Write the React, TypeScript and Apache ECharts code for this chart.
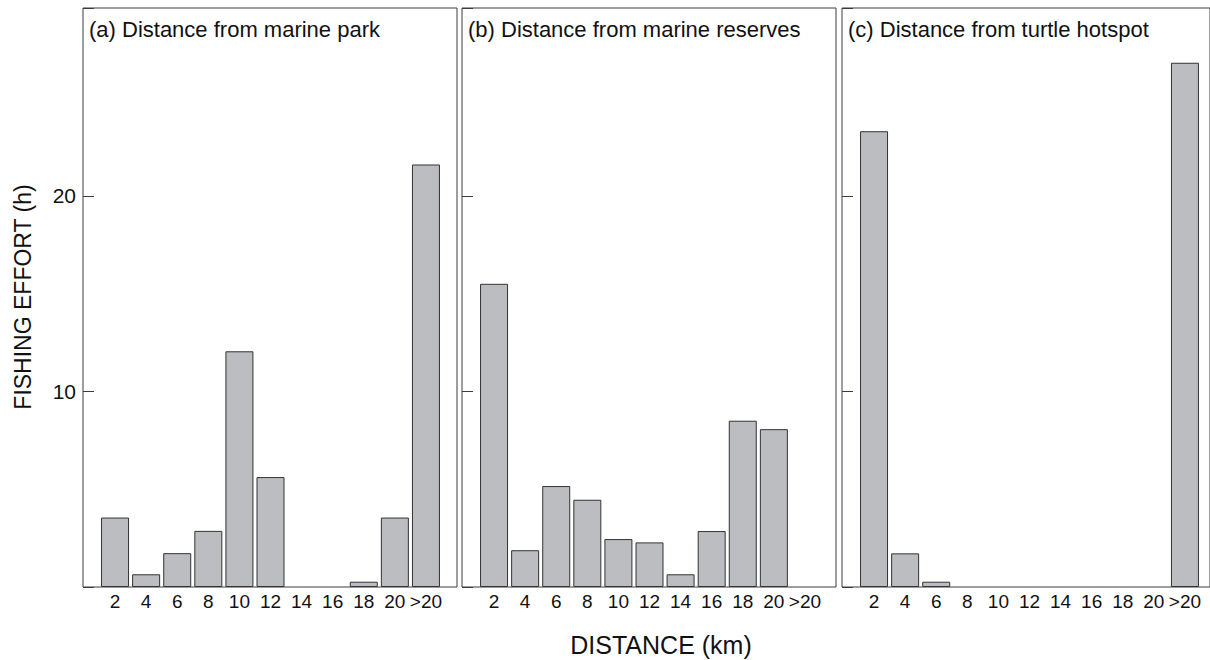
import React, { useEffect, useRef } from "react";
import * as echarts from "echarts";

const categories = ["2", "4", "6", "8", "10", "12", "14", "16", "18", "20", ">20"];
const marineParkEffort = [3.55, 0.65, 1.73, 2.87, 12.05, 5.62, 0, 0, 0.27, 3.55, 21.6];
const marineReservesEffort = [15.5, 1.88, 5.16, 4.46, 2.45, 2.28, 0.65, 2.86, 8.5, 8.07, 0];
const turtleHotspotEffort = [23.3, 1.72, 0.27, 0, 0, 0, 0, 0, 0, 0, 26.8];
const panelTitles = [
  "(a) Distance from marine park",
  "(b) Distance from marine reserves",
  "(c) Distance from turtle hotspot",
];
const yTickValues = [10, 20];

const FONT = "'Liberation Sans', Arial, Helvetica, sans-serif";

export default function App() {
  const ref = useRef<HTMLDivElement>(null);
  useEffect(() => {
    if (!ref.current) return;
    const chart = echarts.init(ref.current, undefined, { renderer: "svg" });
    const panelLefts = [83, 462, 842];
    const panelWidth = 374;
    const top = 8;
    const height = 579;
    const yMax = 29.6;
    const allData = [marineParkEffort, marineReservesEffort, turtleHotspotEffort];

    const grid: any[] = [];
    const xAxis: any[] = [];
    const yAxis: any[] = [];
    const series: any[] = [];
    const graphic: any[] = [];

    panelLefts.forEach((L, i) => {
      grid.push({
        left: L,
        top,
        width: panelWidth,
        height,
        show: true,
        borderColor: "#3c3c3c",
        borderWidth: 1,
        backgroundColor: "transparent",
      });
      grid.push({ left: L + 16.5, top, width: 342, height, show: false });
      const fg = i * 2;
      const dg = i * 2 + 1;
      xAxis.push({ type: "value", gridIndex: fg, show: false, min: 0, max: 1 });
      yAxis.push({
        type: "value",
        gridIndex: fg,
        min: 0,
        max: yMax,
        interval: 10,
        axisLine: { show: false },
        splitLine: { show: false },
        axisTick: {
          show: true,
          inside: true,
          length: 11,
          lineStyle: { color: "#3c3c3c", width: 1 },
        },
        axisLabel: {
          show: i === 0,
          margin: 7,
          fontSize: 21,
          fontFamily: FONT,
          color: "#111",
          formatter: (v: number) => (yTickValues.includes(v) ? String(v) : ""),
        },
      });
      xAxis.push({
        type: "category",
        gridIndex: dg,
        data: categories,
        axisLine: { show: false },
        axisTick: { show: false },
        axisLabel: {
          show: true,
          interval: 0,
          margin: 5,
          fontSize: 19,
          fontFamily: FONT,
          color: "#111",
        },
      });
      yAxis.push({ type: "value", gridIndex: dg, min: 0, max: yMax, show: false });
      series.push({
        type: "bar",
        xAxisIndex: dg,
        yAxisIndex: dg,
        data: allData[i].map((v) => (v === 0 ? null : v)),
        barWidth: 28,
        itemStyle: { color: "#bcbdc1", borderColor: "#333", borderWidth: 1 },
        silent: true,
      });
      graphic.push({
        type: "text",
        x: L + 6,
        y: 29,
        style: {
          text: panelTitles[i],
          fontSize: 22,
          fontFamily: FONT,
          fill: "#111",
          textAlign: "left",
          textVerticalAlign: "middle",
        },
      });
    });

    graphic.push({
      type: "text",
      x: 23,
      y: 297,
      rotation: Math.PI / 2,
      style: {
        text: "FISHING EFFORT (h)",
        fontSize: 23,
        fontFamily: FONT,
        fill: "#111",
        textAlign: "center",
        textVerticalAlign: "middle",
      },
    });
    graphic.push({
      type: "text",
      x: 661,
      y: 645,
      style: {
        text: "DISTANCE (km)",
        fontSize: 25,
        fontFamily: FONT,
        fill: "#111",
        textAlign: "center",
        textVerticalAlign: "middle",
      },
    });

    chart.setOption({
      animation: false,
      backgroundColor: "#ffffff",
      grid,
      xAxis,
      yAxis,
      series,
      graphic,
    });
    return () => chart.dispose();
  }, []);
  return (
    <div
      ref={ref}
      style={{ position: "fixed", left: 0, top: 0, width: 1210, height: 660 }}
    />
  );
}
